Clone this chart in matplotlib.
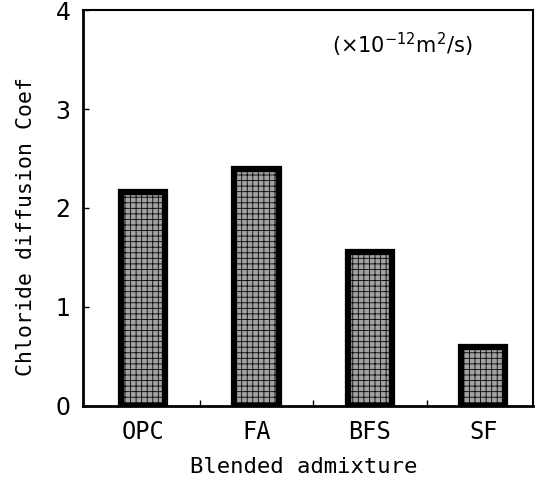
import matplotlib
matplotlib.use("Agg")
import matplotlib.pyplot as plt
import numpy as np

categories = ["OPC", "FA", "BFS", "SF"]
diffusion_coef = [2.16, 2.39, 1.56, 0.59]
y_ticks = [0, 1, 2, 3, 4]

plt.rcParams["font.family"] = ["DejaVu Sans"]
plt.rcParams["hatch.color"] = "#e6e6e6"
plt.rcParams["hatch.linewidth"] = 0.6

fig = plt.figure(figsize=(5.43, 4.82), dpi=100)
ax = fig.add_axes([0.153, 0.158, 0.829, 0.821])

x = np.arange(len(categories))
ax.bar(
    x,
    diffusion_coef,
    width=0.39,
    color="#a2a2a2",
    edgecolor="black",
    linewidth=4.5,
    hatch="+++",
)

ax.set_xlim(-0.53, 3.44)
ax.set_ylim(0, 4)
ax.set_yticks(y_ticks)
ax.set_xticks([0.5, 1.5, 2.5])
ax.set_xticklabels([])
ax.tick_params(axis="both", direction="in", length=4, width=1, labelsize=17)
ax.tick_params(axis="y", pad=9)

# category names sit between the small ticks
for xi, name in zip(x, categories):
    ax.annotate(name, xy=(xi, 0), xycoords=("data", "axes fraction"),
                xytext=(0, -19), textcoords="offset points",
                ha="center", va="center", fontsize=17,
                family="DejaVu Sans Mono")

fig.text(0.56, 0.031, "Blended admixture", ha="center", va="center",
         fontsize=16, family="DejaVu Sans Mono")
fig.text(0.047, 0.53, "Chloride diffusion Coef", rotation=90,
         ha="center", va="center", fontsize=15.5, family="DejaVu Sans Mono")

ax.text(0.553, 0.912, r"($\times$10$^{-12}$m$^2$/s)", transform=ax.transAxes,
        fontsize=15, ha="left", va="center")

ax.spines["left"].set_linewidth(2)
ax.spines["bottom"].set_linewidth(2)
ax.spines["top"].set_linewidth(1.5)
ax.spines["right"].set_linewidth(1.5)

plt.savefig("out.png", dpi=100)
plt.close()
